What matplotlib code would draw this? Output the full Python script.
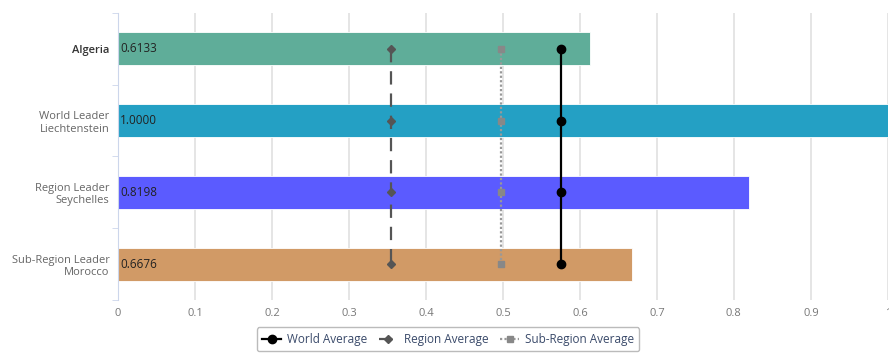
import numpy as np
import matplotlib.pyplot as plt

categories = ['Algeria', 'World Leader\nLiechtenstein', 'Region Leader\nSeychelles',
              'Sub-Region Leader\nMorocco']
values = [0.6133, 1.0000, 0.8198, 0.6676]
colors = ['#5fad99', '#24a0c4', '#5b5bff', '#d19a66']
world_avg = 0.5753
region_avg = 0.3545
subregion_avg = 0.4975

plt.rcParams['font.family'] = ['Open Sans', 'DejaVu Sans']

fig = plt.figure(figsize=(8.89, 3.57), dpi=100)
ax = fig.add_axes([0.1327, 0.1597, 0.866, 0.804])

y = np.arange(len(categories))
bars = ax.barh(y, values, height=0.46, color=colors, edgecolor='white', linewidth=0.6, zorder=2)

for i, v in enumerate(values):
    ax.text(0.003, i, '{:.4f}'.format(v), va='center', ha='left', fontsize=8.5,
            color='#222222', zorder=5)

ax.plot([region_avg] * len(y), y, color='#555555', linestyle=(0, (6, 4)), linewidth=1.6,
        marker='D', markersize=4, zorder=3, label='Region Average')
ax.plot([subregion_avg] * len(y), y, color='#999999', linestyle=(0, (1, 1)), linewidth=1.6,
        marker='s', markersize=5, markerfacecolor='#888888', markeredgecolor='#888888',
        zorder=3, label='Sub-Region Average')
ax.plot([world_avg] * len(y), y, color='black', linestyle='-', linewidth=1.6,
        marker='o', markersize=6, zorder=4, label='World Average')

ax.set_xlim(0, 1)
ax.set_ylim(3.5, -0.5)
ax.set_xticks(np.arange(0, 1.01, 0.1))
ax.set_xticklabels(['0', '0.1', '0.2', '0.3', '0.4', '0.5', '0.6', '0.7', '0.8', '0.9', '1'])
ax.xaxis.grid(True, color='#e3e3e3', linewidth=1.3, zorder=0)
ax.set_axisbelow(True)
ax.tick_params(axis='x', length=0, labelsize=8, labelcolor='#777777', pad=6)

ax.set_yticks(y)
ax.set_yticklabels(categories)
ax.tick_params(axis='y', length=0, labelsize=8, labelcolor='#666666', pad=6)
for lbl in ax.get_yticklabels():
    lbl.set_horizontalalignment('right')
    lbl.set_multialignment('right')
ax.get_yticklabels()[0].set_color('#333333')
ax.get_yticklabels()[0].set_fontweight('semibold')
ax.set_yticks([-0.5, 0.5, 1.5, 2.5, 3.5], minor=True)
ax.tick_params(axis='y', which='minor', length=4, color='#ccd6eb', direction='out')

for s in ['top', 'right', 'bottom']:
    ax.spines[s].set_visible(False)
ax.spines['left'].set_color('#ccd6eb')

handles, labels = ax.get_legend_handles_labels()
order = [2, 0, 1]
leg = fig.legend([handles[i] for i in order], [labels[i] for i in order],
                 loc='lower center', bbox_to_anchor=(0.504, 0.0), ncol=3, fontsize=8.5,
                 frameon=True, handlelength=1.6, columnspacing=1.0, handletextpad=0.5,
                 borderpad=0.45)
leg.get_frame().set_edgecolor('#aaaaaa')
for t in leg.get_texts():
    t.set_color('#3a4a6a')

fig.savefig('out.png', dpi=100)
